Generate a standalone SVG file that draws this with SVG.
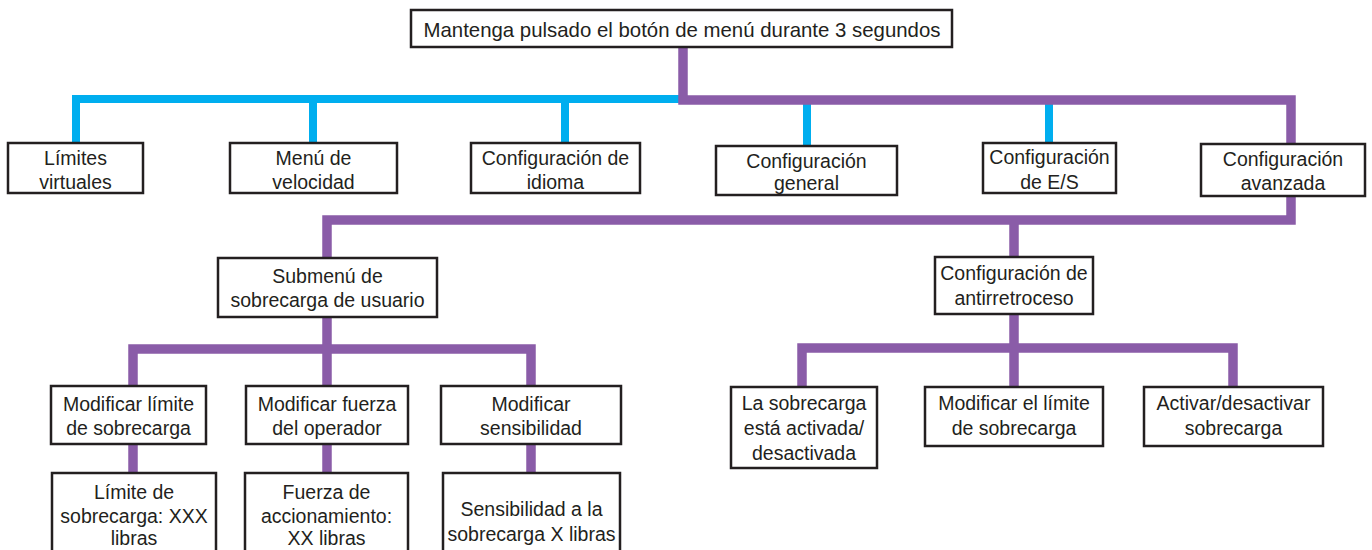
<svg xmlns="http://www.w3.org/2000/svg" width="1372" height="550" viewBox="0 0 1372 550">
<style>
.box{fill:#fff;stroke:#231f20;stroke-width:2.5}
.t{font-family:"Liberation Sans",Arial,sans-serif;font-size:19.5px;fill:#231f20;text-anchor:middle}
.big{font-size:20.4px}
.blue{fill:none;stroke:#00aeef;stroke-width:8;stroke-linejoin:miter}
.purple{fill:none;stroke:#8a5ca8;stroke-width:9.5;stroke-linejoin:miter}
</style>
<rect width="1372" height="550" fill="#fff"/>
<g id="connectors">
<path class="blue" d="M76 143V99H683M313 99V143M565 99V143M807 99V146M1049 99V143"/>
<path class="purple" d="M683 47V100H1291V144M1291 196V220H327V258M1014 220V257"/>
<path class="purple" d="M327 317V386M133 386V349H531V386M133 444V473M327 444V473M531 444V473"/>
<path class="purple" d="M1014 314V387M802 387V348H1233V387"/>
</g>
<g id="n-top"><rect class="box" x="411" y="10" width="541" height="37"/><text class="t big" x="682" y="37">Mantenga pulsado el botón de menú durante 3 segundos</text></g>
<g id="n-limites"><rect class="box" x="8" y="143" width="135" height="50"/><text class="t" x="75.5" y="165">Límites</text><text class="t" x="75.5" y="189">virtuales</text></g>
<g id="n-velocidad"><rect class="box" x="230" y="143" width="167" height="50"/><text class="t" x="313.5" y="165">Menú de</text><text class="t" x="313.5" y="189">velocidad</text></g>
<g id="n-idioma"><rect class="box" x="471" y="143" width="169" height="50"/><text class="t" x="555.5" y="165">Configuración de</text><text class="t" x="555.5" y="189">idioma</text></g>
<g id="n-general"><rect class="box" x="716" y="146" width="181" height="49"/><text class="t" x="806.5" y="168">Configuración</text><text class="t" x="806.5" y="190">general</text></g>
<g id="n-es"><rect class="box" x="983" y="143" width="133" height="50"/><text class="t" x="1049.5" y="164">Configuración</text><text class="t" x="1049.5" y="189">de E/S</text></g>
<g id="n-avanzada"><rect class="box" x="1201" y="144" width="164" height="52"/><text class="t" x="1283" y="166">Configuración</text><text class="t" x="1283" y="190">avanzada</text></g>
<g id="n-submenu"><rect class="box" x="218" y="258" width="219" height="59"/><text class="t" x="327.5" y="283">Submenú de</text><text class="t" x="327.5" y="307">sobrecarga de usuario</text></g>
<g id="n-antirretroceso"><rect class="box" x="935" y="257" width="158" height="57"/><text class="t" x="1014" y="280">Configuración de</text><text class="t" x="1014" y="305">antirretroceso</text></g>
<g id="n-modlimite"><rect class="box" x="51" y="386" width="155" height="58"/><text class="t" x="128.5" y="411">Modificar límite</text><text class="t" x="128.5" y="435">de sobrecarga</text></g>
<g id="n-modfuerza"><rect class="box" x="246" y="386" width="162" height="58"/><text class="t" x="327" y="411">Modificar fuerza</text><text class="t" x="327" y="435">del operador</text></g>
<g id="n-modsens"><rect class="box" x="441" y="386" width="180" height="58"/><text class="t" x="531" y="411">Modificar</text><text class="t" x="531" y="435">sensibilidad</text></g>
<g id="n-limxxx"><rect class="box" x="52" y="473" width="164" height="90"/><text class="t" x="134" y="499">Límite de</text><text class="t" x="134" y="523">sobrecarga: XXX</text><text class="t" x="134" y="545">libras</text></g>
<g id="n-fuerzaxx"><rect class="box" x="245" y="473" width="163" height="90"/><text class="t" x="326.5" y="499">Fuerza de</text><text class="t" x="326.5" y="523">accionamiento:</text><text class="t" x="326.5" y="545">XX libras</text></g>
<g id="n-sensx"><rect class="box" x="443" y="473" width="177" height="90"/><text class="t" x="531.5" y="516">Sensibilidad a la</text><text class="t" x="531.5" y="541">sobrecarga X libras</text></g>
<g id="n-activada"><rect class="box" x="731" y="387" width="146" height="81"/><text class="t" x="804" y="410">La sobrecarga</text><text class="t" x="804" y="435">está activada/</text><text class="t" x="804" y="460">desactivada</text></g>
<g id="n-modellimite"><rect class="box" x="925" y="387" width="178" height="59"/><text class="t" x="1014" y="410">Modificar el límite</text><text class="t" x="1014" y="435">de sobrecarga</text></g>
<g id="n-activar"><rect class="box" x="1144" y="387" width="179" height="59"/><text class="t" x="1233.5" y="410">Activar/desactivar</text><text class="t" x="1233.5" y="435">sobrecarga</text></g>
</svg>
